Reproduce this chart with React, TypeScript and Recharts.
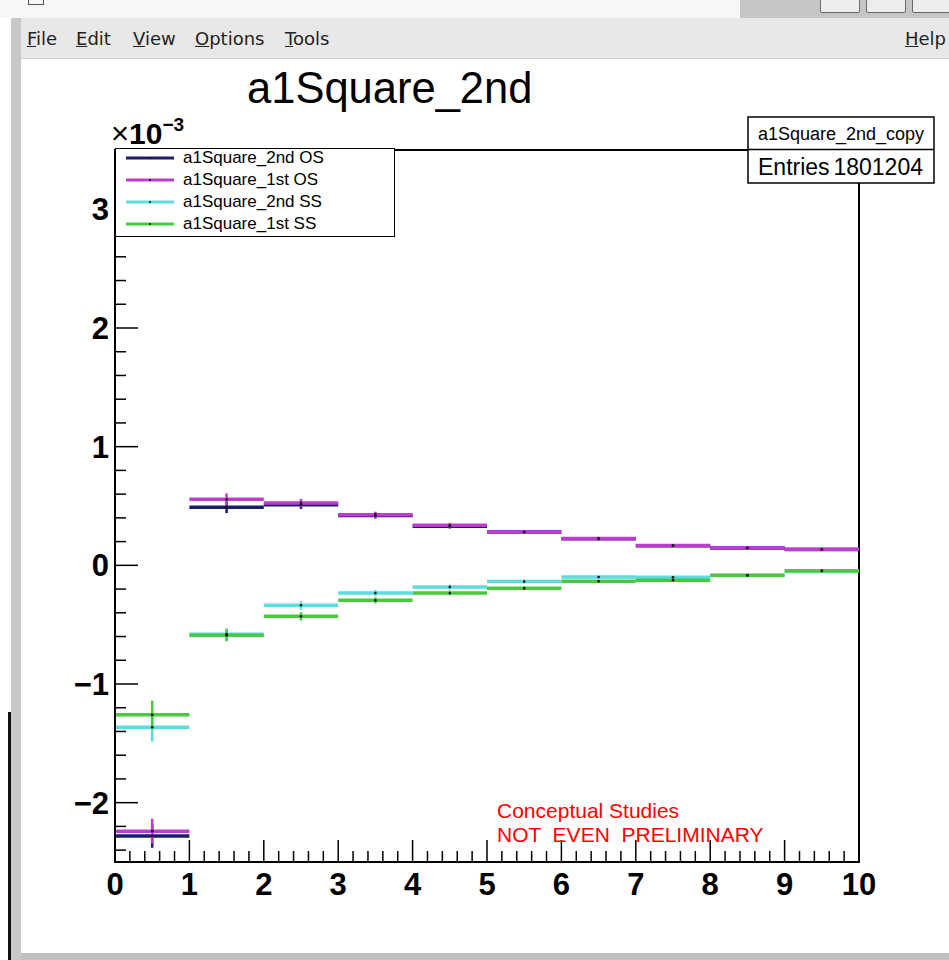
import React from 'react';
import { ComposedChart, Scatter, XAxis, YAxis, ErrorBar, ReferenceArea, Legend } from 'recharts';

// Histogram bin edges (x axis)
const binEdges = [0, 1, 2, 3, 4, 5, 6, 7, 8, 9, 10];

// Bin contents in units of 10^-3, with statistical errors
const os2ndValues = [-2.28, 0.49, 0.51, 0.42, 0.33, 0.28, 0.225, 0.165, 0.146, 0.133];
const os2ndErrors = [0.1, 0.05, 0.035, 0.025, 0.02, 0.016, 0.013, 0.011, 0.01, 0.009];

const os1stValues = [-2.24, 0.556, 0.525, 0.427, 0.337, 0.281, 0.227, 0.168, 0.149, 0.135];
const os1stErrors = [0.105, 0.05, 0.035, 0.025, 0.02, 0.016, 0.013, 0.011, 0.01, 0.009];

const ss2ndValues = [-1.365, -0.58, -0.337, -0.233, -0.183, -0.137, -0.098, -0.1, -0.085, -0.045];
const ss2ndErrors = [0.12, 0.05, 0.035, 0.025, 0.02, 0.016, 0.013, 0.011, 0.01, 0.009];

const ss1stValues = [-1.26, -0.59, -0.43, -0.295, -0.233, -0.194, -0.135, -0.125, -0.084, -0.048];
const ss1stErrors = [0.12, 0.05, 0.035, 0.025, 0.02, 0.016, 0.013, 0.011, 0.01, 0.009];

const seriesNames = ['a1Square_2nd OS', 'a1Square_1st OS', 'a1Square_2nd SS', 'a1Square_1st SS'];
const seriesColors = ['#1b1b6b', '#c03ad2', '#5cdcdc', '#47c940'];

// Axis ticks and labels
const xMajorTicks = [0, 1, 2, 3, 4, 5, 6, 7, 8, 9, 10];
const xTickLabels = ['0', '1', '2', '3', '4', '5', '6', '7', '8', '9', '10'];
const yMajorTicks = [-2, -1, 0, 1, 2, 3];
const yTickLabels = ['\u22122', '\u22121', '0', '1', '2', '3'];
const xDomain = [0, 10];
const yDomain = [-2.5, 3.5];
const minorStep = 0.2;

const histTitle = 'a1Square_2nd';
const statsName = 'a1Square_2nd_copy';
const statsEntries = '1801204';
const noteLines = ['Conceptual Studies', 'NOT  EVEN  PRELIMINARY'];
const menuItems = [
  { label: 'File', x: 27 },
  { label: 'Edit', x: 76 },
  { label: 'View', x: 133 },
  { label: 'Options', x: 195 },
  { label: 'Tools', x: 285 },
];

const FONT = '"Liberation Sans", Arial, Helvetica, sans-serif';

const makeTicks = (lo: number, hi: number) =>
  Array.from({ length: Math.round((hi - lo) / minorStep) + 1 }, (_, i) => +(lo + i * minorStep).toFixed(4));

const xTicks = makeTicks(xDomain[0], xDomain[1]);
const yTicks = makeTicks(-2.4, 3.4);

const isMajor = (v: number) => Math.abs(v - Math.round(v)) < 1e-6;

const toPoints = (values: number[], errors: number[]) =>
  values.map((v, i) => ({
    x: (binEdges[i] + binEdges[i + 1]) / 2,
    y: v,
    ex: (binEdges[i + 1] - binEdges[i]) / 2,
    ey: errors[i],
  }));

const seriesData = [
  toPoints(os2ndValues, os2ndErrors),
  toPoints(os1stValues, os1stErrors),
  toPoints(ss2ndValues, ss2ndErrors),
  toPoints(ss1stValues, ss1stErrors),
];

// Plot frame in pixels
const PLOT_LEFT = 115;
const PLOT_BOTTOM = 862;

const renderXTick = (props: any) => {
  const { x, payload } = props;
  const y = PLOT_BOTTOM;
  const v = payload.value;
  const major = isMajor(v);
  const idx = xMajorTicks.findIndex((t) => Math.abs(t - v) < 1e-6);
  return (
    <g key={`xt-${v}`}>
      <line x1={x} x2={x} y1={y} y2={y - (major ? 22 : 11)} stroke="#000" strokeWidth={1.5} />
      {major && idx >= 0 && (
        <text x={x} y={y + 33} textAnchor="middle" fontFamily={FONT} fontWeight="bold" fontSize={31} fill="#000">
          {xTickLabels[idx]}
        </text>
      )}
    </g>
  );
};

const renderYTick = (props: any) => {
  const { y, payload } = props;
  const x = PLOT_LEFT;
  const v = payload.value;
  const major = isMajor(v);
  const idx = yMajorTicks.findIndex((t) => Math.abs(t - v) < 1e-6);
  return (
    <g key={`yt-${v}`}>
      <line x1={x} x2={x + (major ? 23 : 11)} y1={y} y2={y} stroke="#000" strokeWidth={1.5} />
      {major && idx >= 0 && (
        <text x={x - 6} y={y + 11} textAnchor="end" fontFamily={FONT} fontWeight="bold" fontSize={31} fill="#000">
          {yTickLabels[idx]}
        </text>
      )}
    </g>
  );
};

const BinDot = (props: any) => <circle cx={props.cx} cy={props.cy} r={1.3} fill="#111" />;

const LegendBox = () => (
  <div
    style={{
      boxSizing: 'border-box',
      width: 280,
      height: 89,
      border: '1.5px solid #000',
      background: '#fff',
      fontFamily: FONT,
    }}
  >
    {seriesNames.map((name, i) => (
      <div key={name} style={{ position: 'relative', height: 22 }}>
        <svg width={60} height={22} style={{ position: 'absolute', left: 8, top: 0 }}>
          <line x1={2} x2={50} y1={9} y2={9} stroke={seriesColors[i]} strokeWidth={3} />
          <circle cx={26} cy={9} r={1} fill="#111" />
        </svg>
        <span
          style={{
            position: 'absolute',
            left: 67,
            top: -1,
            lineHeight: '20px',
            fontSize: 17,
            color: '#000',
            whiteSpace: 'nowrap',
          }}
        >
          {name}
        </span>
      </div>
    ))}
  </div>
);

export default function App() {
  return (
    <div
      style={{
        position: 'absolute',
        left: 0,
        top: 0,
        width: 949,
        height: 960,
        background: '#fff',
        overflow: 'hidden',
      }}
    >
      {/* window frame */}
      <div style={{ position: 'absolute', left: 0, top: 0, width: 740, height: 18, background: '#f7f7f7' }} />
      <div style={{ position: 'absolute', left: 740, top: 0, width: 209, height: 18, background: '#c6c6c6' }} />
      {[820, 866, 912].map((bx) => (
        <div
          key={bx}
          style={{
            position: 'absolute',
            left: bx,
            top: -6,
            width: 40,
            height: 19,
            boxSizing: 'border-box',
            border: '1px solid #6a6a6a',
            borderRadius: 2,
            background: '#ededed',
          }}
        />
      ))}
      <div
        style={{
          position: 'absolute',
          left: 28,
          top: -8,
          width: 16,
          height: 13,
          boxSizing: 'border-box',
          border: '1.5px solid #555',
        }}
      />
      <div
        style={{
          position: 'absolute',
          left: 21,
          top: 18,
          width: 928,
          height: 40,
          background: '#e8e8e8',
          borderBottom: '1px solid #d2d2d2',
        }}
      />
      {menuItems.map((m) => (
        <div
          key={m.label}
          style={{
            position: 'absolute',
            left: m.x,
            top: 28,
            fontFamily: '"DejaVu Sans", sans-serif',
            fontSize: 18,
            color: '#222',
            whiteSpace: 'nowrap',
          }}
        >
          <span style={{ textDecoration: 'underline' }}>{m.label[0]}</span>
          {m.label.slice(1)}
        </div>
      ))}
      <div
        style={{
          position: 'absolute',
          left: 905,
          top: 28,
          fontFamily: '"DejaVu Sans", sans-serif',
          fontSize: 18,
          color: '#222',
          whiteSpace: 'nowrap',
        }}
      >
        <span style={{ textDecoration: 'underline' }}>H</span>elp
      </div>
      <div style={{ position: 'absolute', left: 11, top: 18, width: 10, height: 942, background: '#c8c8c8' }} />
      <div style={{ position: 'absolute', left: 8, top: 712, width: 3, height: 248, background: '#111' }} />
      <div style={{ position: 'absolute', left: 21, top: 953, width: 928, height: 7, background: '#c0c0c0' }} />

      {/* histogram pad */}
      <div style={{ position: 'absolute', left: 0, top: 0 }}>
        <ComposedChart width={949} height={960} margin={{ top: 150, right: 90, bottom: 60, left: 75 }}>
          <XAxis
            type="number"
            dataKey="x"
            domain={xDomain}
            allowDataOverflow
            ticks={xTicks}
            interval={0}
            height={38}
            tick={renderXTick}
            axisLine={{ stroke: '#000', strokeWidth: 2 }}
            tickLine={false}
          />
          <YAxis
            type="number"
            dataKey="y"
            domain={yDomain}
            allowDataOverflow
            ticks={yTicks}
            interval={0}
            width={40}
            tick={renderYTick}
            axisLine={{ stroke: '#000', strokeWidth: 2 }}
            tickLine={false}
          />
          <ReferenceArea
            x1={xDomain[0]}
            x2={xDomain[1]}
            y1={yDomain[0]}
            y2={yDomain[1]}
            fill="none"
            fillOpacity={0}
            stroke="#000"
            strokeWidth={2}
          />
          {seriesData.map((pts, i) => (
            <Scatter
              key={seriesNames[i]}
              name={seriesNames[i]}
              data={pts}
              fill={seriesColors[i]}
              shape={<BinDot />}
              isAnimationActive={false}
            >
              <ErrorBar
                dataKey="ex"
                direction="x"
                width={0}
                stroke={seriesColors[i]}
                strokeWidth={3.5}
                isAnimationActive={false}
              />
              <ErrorBar
                dataKey="ey"
                direction="y"
                width={0}
                stroke={seriesColors[i]}
                strokeWidth={2.5}
                isAnimationActive={false}
              />
            </Scatter>
          ))}
          <Legend
            layout="vertical"
            align="center"
            verticalAlign="middle"
            content={<LegendBox />}
            wrapperStyle={{ left: 115, top: 148, width: 280, height: 89 }}
          />
        </ComposedChart>
      </div>

      {/* title, exponent, statistics box and note */}
      <svg
        width={949}
        height={960}
        style={{ position: 'absolute', left: 0, top: 0, pointerEvents: 'none' }}
      >
        <text x={247} y={103} fontFamily={FONT} fontSize={43.5} fill="#000">
          {histTitle}
        </text>
        <text x={111} y={144} fontFamily={FONT} fill="#000">
          <tspan fontSize={31}>{'\u00d7'}</tspan>
          <tspan fontSize={30} fontWeight="bold">10</tspan>
          <tspan fontSize={19} fontWeight="bold" dy={-13}>{'\u22123'}</tspan>
        </text>
        <rect x={748} y={117} width={186} height={66} fill="#fff" stroke="#000" strokeWidth={1.5} />
        <line x1={748} x2={934} y1={149.5} y2={149.5} stroke="#000" strokeWidth={1.5} />
        <text x={841} y={140} textAnchor="middle" fontFamily={FONT} fontSize={18} fill="#000">
          {statsName}
        </text>
        <text x={758} y={175} fontFamily={FONT} fontSize={23} fill="#000">
          Entries
        </text>
        <text x={923} y={175} textAnchor="end" fontFamily={FONT} fontSize={23} fill="#000">
          {statsEntries}
        </text>
        {noteLines.map((line, i) => (
          <text
            key={line}
            x={497}
            y={818 + i * 24}
            fontFamily={FONT}
            fontSize={21}
            fill="#ff0000"
            style={{ whiteSpace: 'pre' }}
          >
            {line}
          </text>
        ))}
      </svg>
    </div>
  );
}
